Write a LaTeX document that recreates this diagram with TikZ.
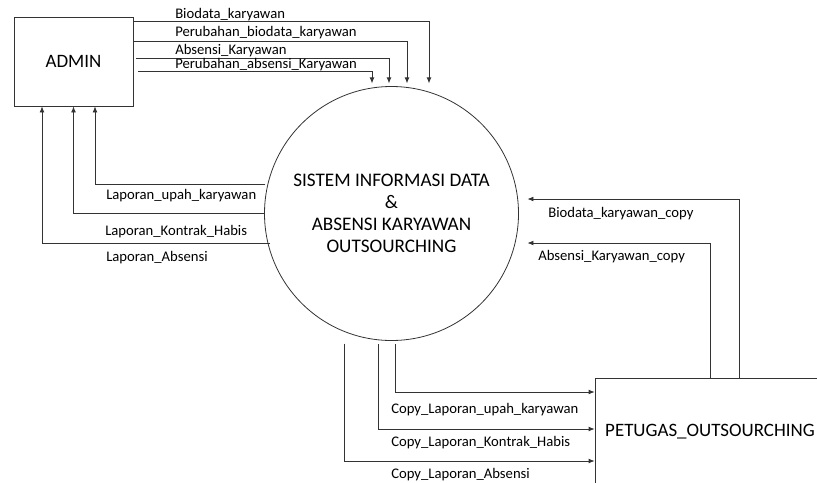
\documentclass[tikz,border=0pt]{standalone}
\usepackage{fontspec}
\setmainfont{Carlito}
\usetikzlibrary{arrows.meta}
\tikzset{
  entity/.style={draw=black!80, line width=0.6pt, rectangle, inner sep=0pt, font=\fontsize{14.2}{16.5}\selectfont},
  proses/.style={draw=black!80, line width=0.6pt, circle, inner sep=0pt, minimum size=190.5pt, align=center, font=\fontsize{14.4}{16.5}\selectfont},
  flow/.style={-{Latex[length=4.5pt,width=3.6pt]}, draw=black!80, line width=0.6pt},
  lbl/.style={anchor=base west, inner sep=0pt, font=\fontsize{11}{13}\selectfont}
}

\begin{document}
\begin{tikzpicture}[x=0.75pt,y=-0.75pt]
   \useasboundingbox (0,0) rectangle (817,482);
   \clip (0,0) rectangle (817,482);
   \node[name=admin, entity, minimum width=89.25pt, minimum height=66.75pt] at (73.5,61.5) {ADMIN};
   \node[name=sistem, proses] at (391.5,213.5) {SISTEM INFORMASI DATA\\\&\\ABSENSI KARYAWAN\\OUTSOURCHING};
   \node[name=petugas, entity, minimum width=172.5pt, minimum height=81pt] at (710,432) {PETUGAS\_OUTSOURCHING};
   \draw[flow, shorten >=2pt] (admin.east |- 0,21) -| (sistem.north -| 429,0);
   \draw[flow, shorten >=2pt] (admin.east |- 0,41) -| (sistem.north -| 407,0);
   \draw[flow, shorten >=2pt, shorten <=2pt] (admin.east |- 0,58) -| (sistem.north -| 389,0);
   \draw[flow, shorten >=2pt, shorten <=3.5pt] (admin.east |- 0,71) -| (sistem.north -| 372,0);
   \draw[flow, shorten <=-1pt] (sistem.west |- 0,184) -| (admin.south -| 95,0);
   \draw[flow] (sistem.west |- 0,213) -| (admin.south -| 73.5,0);
   \draw[flow, shorten <=-4.5pt] (sistem.west |- 0,243) -| (admin.south -| 42,0);
   \draw[flow, shorten >=6.4pt] (petugas.north -| 739,0) |- (sistem.east |- 0,199);
   \draw[flow, shorten >=6.4pt] (petugas.north -| 710,0) |- (sistem.east |- 0,243);
   \draw[flow, shorten <=2.5pt] (sistem.south -| 395,0) |- (petugas.west |- 0,392);
   \draw[flow, shorten <=2.5pt] (sistem.south -| 378,0) |- (petugas.west |- 0,429);
   \draw[flow, shorten <=2pt] (sistem.south -| 344,0) |- (petugas.west |- 0,461);
   \node[name=lbiodata, lbl] at (175,18) {Biodata\_karyawan};
   \node[name=lubahbio, lbl] at (175,36) {Perubahan\_biodata\_karyawan};
   \node[name=labsensi, lbl] at (175,54) {Absensi\_Karyawan};
   \node[name=lubahabs, lbl] at (175,68) {Perubahan\_absensi\_Karyawan};
   \node[name=lupah, lbl] at (106,199) {Laporan\_upah\_karyawan};
   \node[name=lkontrak, lbl] at (105,235) {Laporan\_Kontrak\_Habis};
   \node[name=lablap, lbl] at (106,261.5) {Laporan\_Absensi};
   \node[name=lbiocopy, lbl] at (548,217) {Biodata\_karyawan\_copy};
   \node[name=labscopy, lbl] at (538,260.5) {Absensi\_Karyawan\_copy};
   \node[name=lcupah, lbl] at (391,413) {Copy\_Laporan\_upah\_karyawan};
   \node[name=lckontrak, lbl] at (391,446.5) {Copy\_Laporan\_Kontrak\_Habis};
   \node[name=lcabsen, lbl] at (391,478) {Copy\_Laporan\_Absensi};
\end{tikzpicture}
\end{document}
